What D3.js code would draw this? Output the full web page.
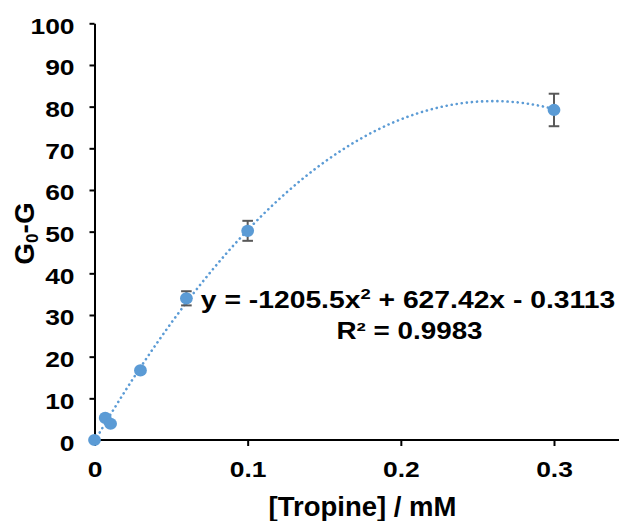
<!DOCTYPE html>
<html><head><meta charset="utf-8">
<script src="https://cdn.jsdelivr.net/npm/d3@7"></script>
<style>body{margin:0;background:#fff}svg{display:block}text{font-family:"Liberation Sans",Arial,sans-serif;font-weight:bold;fill:#000}</style>
</head><body>
<svg id="c" width="620" height="521"></svg>
<script>
const concentrations = [0, 0.007, 0.0105, 0.03, 0.06, 0.1, 0.3];
const response = [0, 5.3, 3.9, 16.7, 34.0, 50.2, 79.2];
const errors = [0, 0, 0, 0, 1.7, 2.4, 3.9];
const xTicks = [0, 0.1, 0.2, 0.3];
const yTicks = [0, 10, 20, 30, 40, 50, 60, 70, 80, 90, 100];
const fitCoef = [-1205.5, 627.42, -0.3113];

const svg = d3.select("#c");
const x = d3.scaleLinear().domain([0, 0.3]).range([94.5, 554]);
const y = d3.scaleLinear().domain([0, 100]).range([440, 23.3]);
const SX = 1.2;

const xAxis = svg.append("g").attr("transform", `translate(0,${y(0)})`)
  .call(d3.axisBottom(x).tickValues(xTicks).tickFormat(d => d === 0 ? "0" : d3.format(".1f")(d)).tickSize(6).tickSizeOuter(0));
xAxis.select(".domain").attr("d", `M${x(0)},0H619`);
const yAxis = svg.append("g").attr("transform", `translate(${x(0)},0)`)
  .call(d3.axisLeft(y).tickValues(yTicks).tickSize(5).tickSizeOuter(0));
[xAxis, yAxis].forEach(g => {
  g.select(".domain").attr("stroke", "#000").attr("stroke-width", 2);
  g.selectAll(".tick line").attr("stroke", "#000").attr("stroke-width", 2);
  g.selectAll(".tick text").attr("fill", "#000").style("font-size", "22px").style("font-weight", "bold")
    .style("font-family", '"Liberation Sans",Arial,sans-serif').attr("transform", `scale(${SX},1)`);
});
yAxis.selectAll(".tick text").attr("x", -20 / SX).attr("dy", null).attr("y", 10);
xAxis.selectAll(".tick text").attr("dy", null).attr("y", 36.7);

// trendline
const fx = d => fitCoef[0]*d*d + fitCoef[1]*d + fitCoef[2];
const xs = d3.range(0, 0.3001, 0.002);
svg.append("path").datum(xs)
  .attr("d", d3.line().x(d => x(d)).y(d => y(fx(d))))
  .attr("fill", "none").attr("stroke", "#5b9bd5").attr("stroke-width", 2.6)
  .attr("stroke-dasharray", "0.1 5").attr("stroke-linecap", "round");

// error bars
const data = concentrations.map((c, i) => ({c, v: response[i], e: errors[i]}));
const eb = svg.append("g").attr("stroke", "#595959").attr("stroke-width", 2);
data.filter(d => d.e > 0).forEach(d => {
  eb.append("line").attr("x1", x(d.c)).attr("x2", x(d.c)).attr("y1", y(d.v - d.e)).attr("y2", y(d.v + d.e));
  [d.v - d.e, d.v + d.e].forEach(v => eb.append("line").attr("x1", x(d.c) - 5.3).attr("x2", x(d.c) + 5.3).attr("y1", y(v)).attr("y2", y(v)));
});

svg.append("g").selectAll("ellipse").data(data).join("ellipse")
  .attr("cx", d => x(d.c)).attr("cy", d => y(d.v)).attr("rx", 6.4).attr("ry", 6.1).attr("fill", "#5b9bd5");

// equation
const eqG = svg.append("g").attr("transform", "translate(408,308.3) scale(1.23,1)");
const eq = eqG.append("text").attr("text-anchor", "middle").style("font-size", "23px");
eq.append("tspan").text("y = -1205.5x");
eq.append("tspan").text("2").attr("dy", -9).style("font-size", "15px");
eq.append("tspan").text(" + 627.42x - 0.3113").attr("dy", 9);
svg.append("g").attr("transform", "translate(409.5,339.3) scale(1.21,1)")
  .append("text").attr("text-anchor", "middle").style("font-size", "23px").text("R² = 0.9983");

// axis titles
svg.append("text").attr("x", 362.5).attr("y", 515.5).attr("text-anchor", "middle").style("font-size", "27.5px").text("[Tropine] / mM");
const yt = svg.append("text").attr("transform", "translate(33.5,233.5) rotate(-90)").attr("text-anchor", "middle").style("font-size", "28px");
yt.append("tspan").text("G");
yt.append("tspan").text("0").attr("dy", 4).style("font-size", "17px");
yt.append("tspan").text("-G").attr("dy", -4);
</script>
</body></html>
